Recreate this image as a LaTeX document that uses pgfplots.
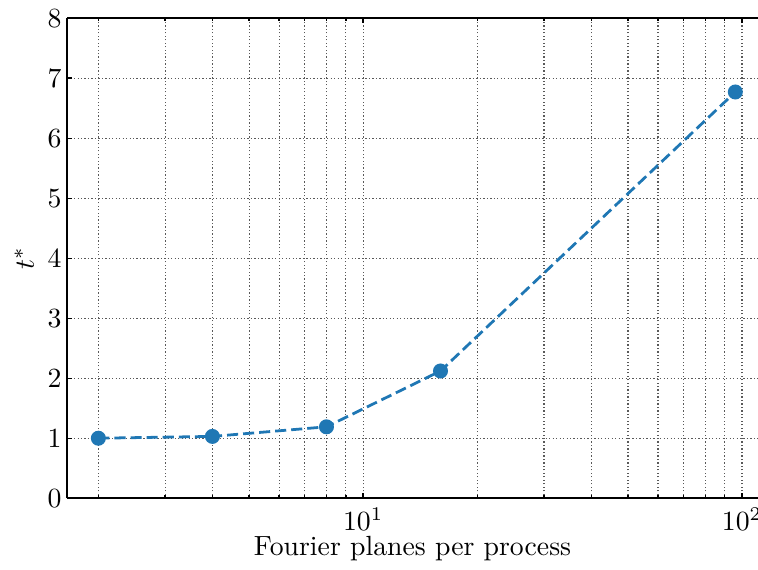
\documentclass[border=0pt]{standalone}
\usepackage{pgfplots}
\pgfplotsset{compat=1.18}
\definecolor{c0}{HTML}{1F77B4}
\begin{document}
\begin{tikzpicture}[trim axis right]
\begin{axis}[
  width=249pt, height=173pt, scale only axis,
  xmode=log, xmin=1.654, xmax=110.2, ymin=0, ymax=8,
  ytick={0,1,2,3,4,5,6,7,8},
  axis x line*=box, axis y line*=left,
  x axis line style={-}, y axis line style={-},
  axis line style={line width=0.7pt},
  tick align=inside,
  major tick length=1.8pt, minor tick length=1.0pt,
  every tick/.style={black, line width=0.5pt},
  grid=both,
  major grid style={black!65, line width=0.4pt, dash pattern=on 0.45pt off 0.8pt},
  minor grid style={black!65, line width=0.4pt, dash pattern=on 0.45pt off 0.8pt},
  yticklabel style={inner xsep=1.8pt},
  xlabel={Fourier planes per process},
  ylabel={$t^*$},
  xlabel style={yshift=5pt},
  ylabel style={inner ysep=5.3pt, yshift=-2.3pt},
]
\addplot[c0, line width=1pt, dash pattern=on 4pt off 1.8pt, mark=*, mark size=2.2pt, mark options={solid, fill=c0, draw=c0}]
coordinates {(2,1.00) (4,1.03) (8,1.19) (16,2.12) (96,6.77)};
\end{axis}
\end{tikzpicture}
\end{document}
